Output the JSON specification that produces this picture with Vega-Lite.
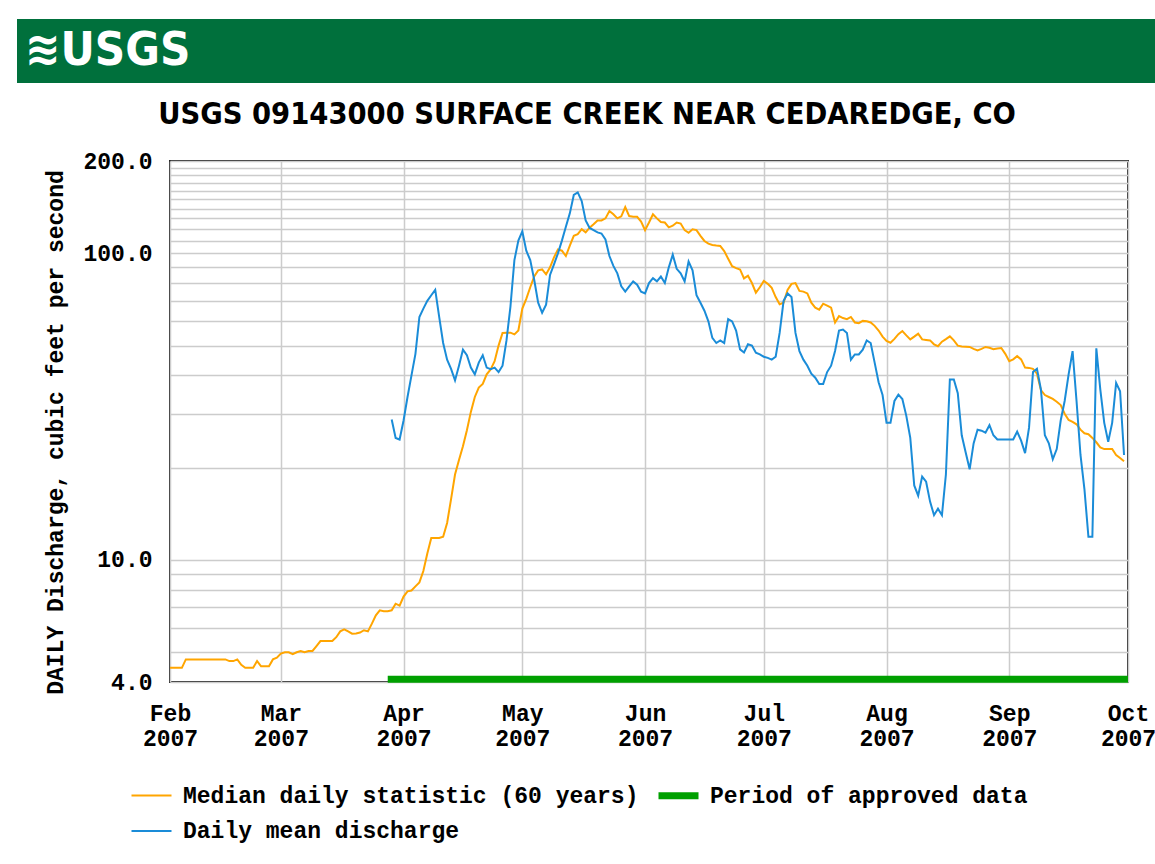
{
  "$schema": "https://vega.github.io/schema/vega-lite/v6.json",
  "background": "white",
  "padding": {"left": 17, "top": 19, "right": 0, "bottom": 15},
  "spacing": 15,
  "datasets": {
    "header": [{"label": "≋USGS", "px": 1, "py": 0.5}],
    "approved": [
      {"date": "2007-03-28", "cfs": 4.08, "series": "approved"},
      {"date": "2007-10-01", "cfs": 4.08, "series": "approved"}
    ],
    "flow": [
      {"date": "2007-02-01", "median": 4.45}, {"date": "2007-02-02", "median": 4.45}, {"date": "2007-02-03", "median": 4.45}, {"date": "2007-02-04", "median": 4.45},
      {"date": "2007-02-05", "median": 4.74}, {"date": "2007-02-06", "median": 4.74}, {"date": "2007-02-07", "median": 4.74}, {"date": "2007-02-08", "median": 4.74},
      {"date": "2007-02-09", "median": 4.74}, {"date": "2007-02-10", "median": 4.74}, {"date": "2007-02-11", "median": 4.74}, {"date": "2007-02-12", "median": 4.74},
      {"date": "2007-02-13", "median": 4.74}, {"date": "2007-02-14", "median": 4.74}, {"date": "2007-02-15", "median": 4.74}, {"date": "2007-02-16", "median": 4.68},
      {"date": "2007-02-17", "median": 4.68}, {"date": "2007-02-18", "median": 4.74}, {"date": "2007-02-19", "median": 4.55}, {"date": "2007-02-20", "median": 4.45},
      {"date": "2007-02-21", "median": 4.45}, {"date": "2007-02-22", "median": 4.45}, {"date": "2007-02-23", "median": 4.68}, {"date": "2007-02-24", "median": 4.5},
      {"date": "2007-02-25", "median": 4.5}, {"date": "2007-02-26", "median": 4.5}, {"date": "2007-02-27", "median": 4.74}, {"date": "2007-02-28", "median": 4.8},
      {"date": "2007-03-01", "median": 4.95}, {"date": "2007-03-02", "median": 5.0}, {"date": "2007-03-03", "median": 5.0}, {"date": "2007-03-04", "median": 4.93},
      {"date": "2007-03-05", "median": 5.0}, {"date": "2007-03-06", "median": 5.05}, {"date": "2007-03-07", "median": 5.0}, {"date": "2007-03-08", "median": 5.05},
      {"date": "2007-03-09", "median": 5.05}, {"date": "2007-03-10", "median": 5.24}, {"date": "2007-03-11", "median": 5.44}, {"date": "2007-03-12", "median": 5.44},
      {"date": "2007-03-13", "median": 5.44}, {"date": "2007-03-14", "median": 5.44}, {"date": "2007-03-15", "median": 5.6}, {"date": "2007-03-16", "median": 5.85},
      {"date": "2007-03-17", "median": 5.94}, {"date": "2007-03-18", "median": 5.85}, {"date": "2007-03-19", "median": 5.75}, {"date": "2007-03-20", "median": 5.76},
      {"date": "2007-03-21", "median": 5.8}, {"date": "2007-03-22", "median": 5.9}, {"date": "2007-03-23", "median": 5.85}, {"date": "2007-03-24", "median": 6.2},
      {"date": "2007-03-25", "median": 6.6}, {"date": "2007-03-26", "median": 6.85}, {"date": "2007-03-27", "median": 6.81}, {"date": "2007-03-28", "median": 6.81},
      {"date": "2007-03-29", "median": 6.85, "daily": 28.7}, {"date": "2007-03-30", "median": 7.2, "daily": 25.0}, {"date": "2007-03-31", "median": 7.1, "daily": 24.7},
      {"date": "2007-04-01", "median": 7.6, "daily": 28.5}, {"date": "2007-04-02", "median": 7.9, "daily": 34}, {"date": "2007-04-03", "median": 7.95, "daily": 40},
      {"date": "2007-04-04", "median": 8.2, "daily": 47}, {"date": "2007-04-05", "median": 8.45, "daily": 62}, {"date": "2007-04-06", "median": 9.2, "daily": 66},
      {"date": "2007-04-07", "median": 10.5, "daily": 70}, {"date": "2007-04-08", "median": 11.8, "daily": 73}, {"date": "2007-04-09", "median": 11.8, "daily": 76},
      {"date": "2007-04-10", "median": 11.8, "daily": 62}, {"date": "2007-04-11", "median": 11.9, "daily": 51}, {"date": "2007-04-12", "median": 13.2, "daily": 45},
      {"date": "2007-04-13", "median": 15.8, "daily": 42}, {"date": "2007-04-14", "median": 19.0, "daily": 38.5}, {"date": "2007-04-15", "median": 21.2, "daily": 43},
      {"date": "2007-04-16", "median": 23.5, "daily": 48.5}, {"date": "2007-04-17", "median": 26.5, "daily": 46.5}, {"date": "2007-04-18", "median": 30.4, "daily": 42.4},
      {"date": "2007-04-19", "median": 34, "daily": 40.3}, {"date": "2007-04-20", "median": 36.5, "daily": 44}, {"date": "2007-04-21", "median": 37.5, "daily": 46.5},
      {"date": "2007-04-22", "median": 40.3, "daily": 42.4}, {"date": "2007-04-23", "median": 41.8, "daily": 41.9}, {"date": "2007-04-24", "median": 44.5, "daily": 42.4},
      {"date": "2007-04-25", "median": 50, "daily": 41}, {"date": "2007-04-26", "median": 55, "daily": 43}, {"date": "2007-04-27", "median": 55.1, "daily": 52},
      {"date": "2007-04-28", "median": 55.1, "daily": 67}, {"date": "2007-04-29", "median": 54.4, "daily": 95}, {"date": "2007-04-30", "median": 56, "daily": 110},
      {"date": "2007-05-01", "median": 66, "daily": 118}, {"date": "2007-05-02", "median": 71, "daily": 102}, {"date": "2007-05-03", "median": 77.5, "daily": 95},
      {"date": "2007-05-04", "median": 84, "daily": 82}, {"date": "2007-05-05", "median": 88, "daily": 69}, {"date": "2007-05-06", "median": 88.6, "daily": 64},
      {"date": "2007-05-07", "median": 85.4, "daily": 68}, {"date": "2007-05-08", "median": 90, "daily": 85}, {"date": "2007-05-09", "median": 97, "daily": 92},
      {"date": "2007-05-10", "median": 103, "daily": 100}, {"date": "2007-05-11", "median": 102, "daily": 110}, {"date": "2007-05-12", "median": 98, "daily": 122},
      {"date": "2007-05-13", "median": 106, "daily": 135}, {"date": "2007-05-14", "median": 114, "daily": 155}, {"date": "2007-05-15", "median": 115.4, "daily": 158},
      {"date": "2007-05-16", "median": 119.8, "daily": 148}, {"date": "2007-05-17", "median": 117, "daily": 128}, {"date": "2007-05-18", "median": 121.2, "daily": 121},
      {"date": "2007-05-19", "median": 124.4, "daily": 119}, {"date": "2007-05-20", "median": 128, "daily": 117}, {"date": "2007-05-21", "median": 128, "daily": 116},
      {"date": "2007-05-22", "median": 130, "daily": 111}, {"date": "2007-05-23", "median": 137.4, "daily": 98}, {"date": "2007-05-24", "median": 134, "daily": 91},
      {"date": "2007-05-25", "median": 130, "daily": 86}, {"date": "2007-05-26", "median": 132, "daily": 78}, {"date": "2007-05-27", "median": 141.6, "daily": 75},
      {"date": "2007-05-28", "median": 132.3, "daily": 78}, {"date": "2007-05-29", "median": 131.5, "daily": 81}, {"date": "2007-05-30", "median": 131.5, "daily": 79},
      {"date": "2007-05-31", "median": 127, "daily": 75},
      {"date": "2007-06-01", "median": 119, "daily": 74}, {"date": "2007-06-02", "median": 126, "daily": 80}, {"date": "2007-06-03", "median": 134, "daily": 83},
      {"date": "2007-06-04", "median": 130, "daily": 81}, {"date": "2007-06-05", "median": 126.5, "daily": 84}, {"date": "2007-06-06", "median": 126, "daily": 80},
      {"date": "2007-06-07", "median": 121.5, "daily": 90}, {"date": "2007-06-08", "median": 123, "daily": 99}, {"date": "2007-06-09", "median": 126, "daily": 89},
      {"date": "2007-06-10", "median": 125, "daily": 86}, {"date": "2007-06-11", "median": 119, "daily": 81}, {"date": "2007-06-12", "median": 116.7, "daily": 94},
      {"date": "2007-06-13", "median": 119.8, "daily": 88}, {"date": "2007-06-14", "median": 119, "daily": 73}, {"date": "2007-06-15", "median": 114, "daily": 69},
      {"date": "2007-06-16", "median": 109.7, "daily": 65}, {"date": "2007-06-17", "median": 107.5, "daily": 60}, {"date": "2007-06-18", "median": 106.5, "daily": 53},
      {"date": "2007-06-19", "median": 106, "daily": 51}, {"date": "2007-06-20", "median": 105.7, "daily": 52}, {"date": "2007-06-21", "median": 101.7, "daily": 51},
      {"date": "2007-06-22", "median": 96, "daily": 61}, {"date": "2007-06-23", "median": 90.8, "daily": 60}, {"date": "2007-06-24", "median": 89.5, "daily": 56},
      {"date": "2007-06-25", "median": 88.6, "daily": 48.6}, {"date": "2007-06-26", "median": 82.8, "daily": 47.5}, {"date": "2007-06-27", "median": 84.5, "daily": 50.5},
      {"date": "2007-06-28", "median": 80, "daily": 50}, {"date": "2007-06-29", "median": 74.4, "daily": 47.4}, {"date": "2007-06-30", "median": 77.5, "daily": 46.8},
      {"date": "2007-07-01", "median": 81.2, "daily": 46}, {"date": "2007-07-02", "median": 79.5, "daily": 45.6}, {"date": "2007-07-03", "median": 77.2, "daily": 45},
      {"date": "2007-07-04", "median": 72, "daily": 46}, {"date": "2007-07-05", "median": 68.2, "daily": 55}, {"date": "2007-07-06", "median": 69, "daily": 70},
      {"date": "2007-07-07", "median": 76, "daily": 74}, {"date": "2007-07-08", "median": 79.5, "daily": 72}, {"date": "2007-07-09", "median": 80, "daily": 55},
      {"date": "2007-07-10", "median": 75.4, "daily": 48}, {"date": "2007-07-11", "median": 75, "daily": 45}, {"date": "2007-07-12", "median": 74, "daily": 43},
      {"date": "2007-07-13", "median": 69, "daily": 40.5}, {"date": "2007-07-14", "median": 66.5, "daily": 39.3}, {"date": "2007-07-15", "median": 65.5, "daily": 37.5},
      {"date": "2007-07-16", "median": 68.5, "daily": 37.5}, {"date": "2007-07-17", "median": 67.5, "daily": 41}, {"date": "2007-07-18", "median": 66.5, "daily": 43},
      {"date": "2007-07-19", "median": 59.5, "daily": 48}, {"date": "2007-07-20", "median": 62.4, "daily": 56}, {"date": "2007-07-21", "median": 61.5, "daily": 56.4},
      {"date": "2007-07-22", "median": 61, "daily": 55}, {"date": "2007-07-23", "median": 62, "daily": 45}, {"date": "2007-07-24", "median": 59.5, "daily": 46.8},
      {"date": "2007-07-25", "median": 59.2, "daily": 46.8}, {"date": "2007-07-26", "median": 60.2, "daily": 48.5}, {"date": "2007-07-27", "median": 60, "daily": 52},
      {"date": "2007-07-28", "median": 59.5, "daily": 51}, {"date": "2007-07-29", "median": 58, "daily": 44}, {"date": "2007-07-30", "median": 56, "daily": 38},
      {"date": "2007-07-31", "median": 53.5, "daily": 34.5},
      {"date": "2007-08-01", "median": 51.8, "daily": 28}, {"date": "2007-08-02", "median": 51.1, "daily": 28}, {"date": "2007-08-03", "median": 52.6, "daily": 33},
      {"date": "2007-08-04", "median": 54.5, "daily": 34.6}, {"date": "2007-08-05", "median": 55.8, "daily": 33.5}, {"date": "2007-08-06", "median": 54, "daily": 29.5},
      {"date": "2007-08-07", "median": 52.4, "daily": 25}, {"date": "2007-08-08", "median": 53.5, "daily": 17.5}, {"date": "2007-08-09", "median": 54.7, "daily": 16.2},
      {"date": "2007-08-10", "median": 52.4, "daily": 18.7}, {"date": "2007-08-11", "median": 52.2, "daily": 18}, {"date": "2007-08-12", "median": 52, "daily": 15.5},
      {"date": "2007-08-13", "median": 50.5, "daily": 14}, {"date": "2007-08-14", "median": 49.8, "daily": 14.7}, {"date": "2007-08-15", "median": 51.5, "daily": 14},
      {"date": "2007-08-16", "median": 52.5, "daily": 19}, {"date": "2007-08-17", "median": 53.6, "daily": 38.8}, {"date": "2007-08-18", "median": 52, "daily": 38.8},
      {"date": "2007-08-19", "median": 50, "daily": 35}, {"date": "2007-08-20", "median": 49.7, "daily": 25.5}, {"date": "2007-08-21", "median": 49.6, "daily": 22.4},
      {"date": "2007-08-22", "median": 49.5, "daily": 19.75}, {"date": "2007-08-23", "median": 48.8, "daily": 24}, {"date": "2007-08-24", "median": 48.2, "daily": 26.6},
      {"date": "2007-08-25", "median": 48.8, "daily": 26.4}, {"date": "2007-08-26", "median": 49.5, "daily": 26}, {"date": "2007-08-27", "median": 49.2, "daily": 27.5},
      {"date": "2007-08-28", "median": 48.7, "daily": 25.5}, {"date": "2007-08-29", "median": 48.9, "daily": 24.7}, {"date": "2007-08-30", "median": 49.1, "daily": 24.7},
      {"date": "2007-08-31", "median": 47, "daily": 24.7},
      {"date": "2007-09-01", "median": 44.5, "daily": 24.7}, {"date": "2007-09-02", "median": 45.1, "daily": 24.7}, {"date": "2007-09-03", "median": 46.2, "daily": 26.2},
      {"date": "2007-09-04", "median": 45.1, "daily": 24.5}, {"date": "2007-09-05", "median": 42.4, "daily": 22.3}, {"date": "2007-09-06", "median": 42.3, "daily": 27},
      {"date": "2007-09-07", "median": 42, "daily": 41}, {"date": "2007-09-08", "median": 40.5, "daily": 42}, {"date": "2007-09-09", "median": 35.8, "daily": 36},
      {"date": "2007-09-10", "median": 34.5, "daily": 25.5}, {"date": "2007-09-11", "median": 34, "daily": 24}, {"date": "2007-09-12", "median": 33.5, "daily": 21.3},
      {"date": "2007-09-13", "median": 32.8, "daily": 23}, {"date": "2007-09-14", "median": 32, "daily": 28.5}, {"date": "2007-09-15", "median": 30, "daily": 33},
      {"date": "2007-09-16", "median": 28.6, "daily": 40.3}, {"date": "2007-09-17", "median": 28.2, "daily": 48}, {"date": "2007-09-18", "median": 27.7, "daily": 33},
      {"date": "2007-09-19", "median": 26.6, "daily": 22}, {"date": "2007-09-20", "median": 25.9, "daily": 17}, {"date": "2007-09-21", "median": 25.7, "daily": 11.9},
      {"date": "2007-09-22", "median": 25, "daily": 11.9}, {"date": "2007-09-23", "median": 24.2, "daily": 49}, {"date": "2007-09-24", "median": 23.3, "daily": 36},
      {"date": "2007-09-25", "median": 23, "daily": 28}, {"date": "2007-09-26", "median": 23, "daily": 24.3}, {"date": "2007-09-27", "median": 23, "daily": 28},
      {"date": "2007-09-28", "median": 22, "daily": 37.8}, {"date": "2007-09-29", "median": 21.5, "daily": 35.5}, {"date": "2007-09-30", "median": 21, "daily": 22}
    ]
  },
  "vconcat": [
    {
      "width": 1138,
      "height": 64,
      "data": {"name": "header"},
      "view": {"fill": "#00703c", "stroke": null},
      "mark": {"type": "text", "align": "left", "baseline": "middle", "font": "DejaVu Sans Condensed, sans-serif", "fontSize": 47, "fontWeight": "bold", "color": "white"},
      "encoding": {
        "x": {"field": "px", "type": "quantitative", "scale": {"domain": [0, 142]}, "axis": null},
        "y": {"field": "py", "type": "quantitative", "scale": {"domain": [0, 1]}, "axis": null},
        "text": {"field": "label"}
      }
    },
    {
      "spacing": 25,
      "hconcat": [
        {"width": 1, "height": 1, "data": {"values": []}, "mark": "point", "view": {"stroke": null}},
        {
          "width": 958,
          "height": 521,
          "title": {
            "text": "USGS 09143000 SURFACE CREEK NEAR CEDAREDGE, CO",
            "font": "DejaVu Sans Condensed, sans-serif",
            "fontSize": 30.5, "fontWeight": "bold", "color": "black",
            "anchor": "middle", "frame": "group", "dx": -62, "offset": 20
          },
          "encoding": {
            "x": {
              "field": "date", "type": "temporal",
              "scale": {"type": "utc", "domain": [{"year": 2007, "month": 2, "date": 1, "utc": true}, {"year": 2007, "month": 10, "date": 1, "utc": true}], "nice": false},
              "axis": {
                "title": null,
                "values": [
                  {"year": 2007, "month": 2, "date": 1, "utc": true}, {"year": 2007, "month": 3, "date": 1, "utc": true},
                  {"year": 2007, "month": 4, "date": 1, "utc": true}, {"year": 2007, "month": 5, "date": 1, "utc": true},
                  {"year": 2007, "month": 6, "date": 1, "utc": true}, {"year": 2007, "month": 7, "date": 1, "utc": true},
                  {"year": 2007, "month": 8, "date": 1, "utc": true}, {"year": 2007, "month": 9, "date": 1, "utc": true},
                  {"year": 2007, "month": 10, "date": 1, "utc": true}
                ],
                "labelExpr": "[utcFormat(datum.value, '%b'), utcFormat(datum.value, '%Y')]",
                "labelLineHeight": 25,
                "labelPadding": 20,
                "labelFlush": false,
                "labelOverlap": false,
                "labelAlign": "center"
              }
            },
            "y": {
              "field": "cfs", "type": "quantitative",
              "scale": {"type": "log", "domain": [4, 200], "nice": false},
              "axis": {
                "title": "DAILY Discharge, cubic feet per second",
                "titlePadding": 15,
                "titleY": 271,
                "values": [4, 5, 6, 7, 8, 9, 10, 20, 30, 40, 50, 60, 70, 80, 90, 100, 110, 120, 130, 140, 150, 160, 170, 180, 190, 200],
                "labelExpr": "(datum.value == 4 || datum.value == 10 || datum.value == 100 || datum.value == 200) ? format(datum.value, '.1f') : ''",
                "labelPadding": 18,
                "labelFlush": false,
                "labelOverlap": false
              }
            },
            "color": {
              "field": "series", "type": "nominal",
              "scale": {"domain": ["median", "approved", "daily"], "range": ["#ffa500", "#00a000", "#1a8cd8"]},
              "legend": {
                "title": null, "orient": "none", "legendX": 111, "legendY": 753,
                "direction": "horizontal", "columns": 2, "symbolType": "stroke", "symbolSize": 1600,
                "labelFont": "Liberation Mono", "labelFontSize": 23, "labelFontWeight": "bold", "labelColor": "black",
                "labelOffset": 8, "columnPadding": 5, "rowPadding": -6, "labelLimit": 0, "padding": 0,
                "labelExpr": "datum.label == 'median' ? 'Median daily statistic (60 years)' : datum.label == 'approved' ? 'Period of approved data' : 'Daily mean discharge'"
              }
            },
            "strokeWidth": {
              "field": "series", "type": "nominal",
              "scale": {"type": "ordinal", "domain": ["median", "approved", "daily"], "range": [2, 7, 2]},
              "legend": {
                "title": null, "orient": "none", "legendX": 111, "legendY": 753,
                "direction": "horizontal", "columns": 2, "symbolType": "stroke", "symbolSize": 1600,
                "labelFont": "Liberation Mono", "labelFontSize": 23, "labelFontWeight": "bold", "labelColor": "black",
                "labelOffset": 8, "columnPadding": 5, "rowPadding": -6, "labelLimit": 0, "padding": 0,
                "labelExpr": "datum.label == 'median' ? 'Median daily statistic (60 years)' : datum.label == 'approved' ? 'Period of approved data' : 'Daily mean discharge'"
              }
            }
          },
          "layer": [
            {
              "data": {"name": "flow"},
              "transform": [
                {"fold": ["median", "daily"], "as": ["series", "cfs"]},
                {"filter": "isValid(datum.cfs)"}
              ],
              "mark": {"type": "line"}
            },
            {
              "data": {"name": "approved"},
              "mark": {"type": "line", "strokeCap": "butt"}
            }
          ]
        }
      ]
    }
  ],
  "config": {
    "font": "Liberation Mono",
    "view": {"stroke": "#222222", "strokeWidth": 2},
    "axis": {
      "labelFont": "Liberation Mono", "labelFontSize": 23, "labelFontWeight": "bold", "labelColor": "black",
      "titleFont": "Liberation Mono", "titleFontSize": 23, "titleFontWeight": "bold", "titleColor": "black",
      "gridColor": "#cccccc", "gridWidth": 1.5, "gridOpacity": 1, "ticks": false, "domain": false
    }
  }
}
